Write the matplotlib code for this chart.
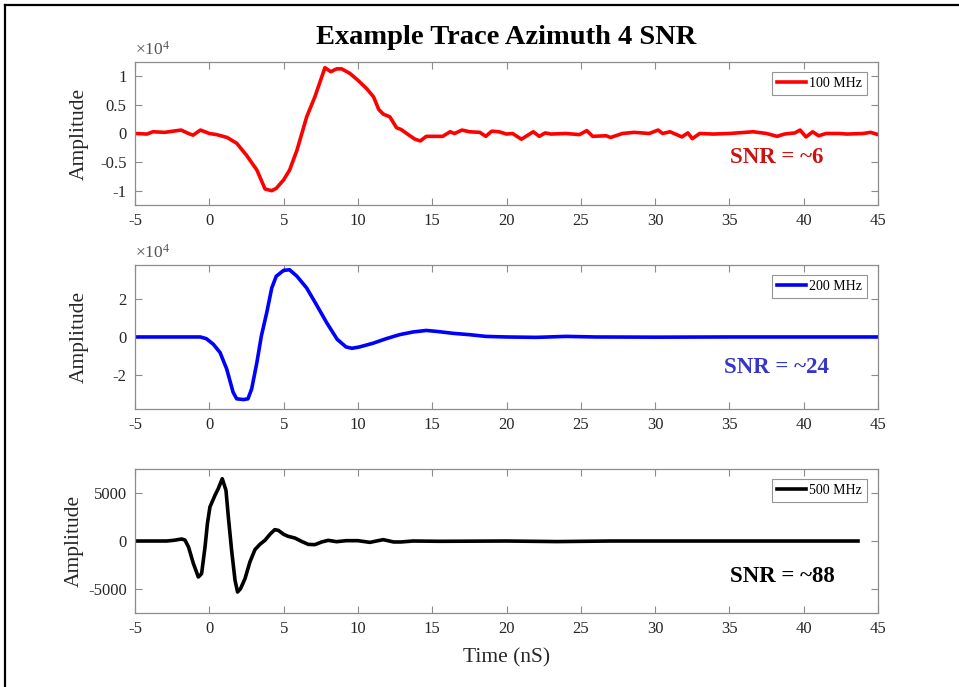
import matplotlib
matplotlib.use("Agg")
import matplotlib.pyplot as plt
from matplotlib.lines import Line2D
from matplotlib.ticker import FuncFormatter

plt.rcParams['font.family'] = ['Liberation Serif', 'DejaVu Serif']
plt.rcParams['mathtext.fontset'] = 'custom'
plt.rcParams['mathtext.rm'] = 'Liberation Serif'
plt.rcParams['axes.unicode_minus'] = False

# 100 MHz trace (time in ns, amplitude)
t100 = [-5.0, -4.2, -3.8, -3.0, -1.9, -1.4, -1.1, -0.6, 0.0, 0.5, 1.2, 1.84, 2.5, 3.2,
        3.75, 4.2, 4.5, 5.0, 5.4, 5.9, 6.55, 7.1, 7.78, 8.17, 8.57, 8.9, 9.46, 10.0,
        10.6, 11.05, 11.4, 11.7, 12.15, 12.6, 12.9, 13.5, 13.84, 14.2, 14.6, 15.2,
        15.7, 16.2, 16.5, 17.0, 17.5, 18.2, 18.6, 19.0, 19.5, 20.0, 20.4, 21.0, 21.8,
        22.2, 22.6, 23.0, 24.0, 24.9, 25.4, 25.8, 26.7, 27.0, 27.8, 28.6, 29.6, 30.2,
        30.5, 31.0, 31.8, 32.2, 32.5, 33.0, 33.9, 35.0, 36.6, 37.5, 38.2, 38.7, 39.4,
        39.75, 40.15, 40.6, 41.0, 41.5, 42.4, 42.9, 44.0, 44.5, 45.0]
a100 = [0, -100, 300, 200, 600, 0, -300, 600, 0, -200, -700, -1700, -3800, -6400,
        -9700, -10000, -9600, -8100, -6400, -2900, 2900, 6400, 11500, 10800, 11300,
        11300, 10500, 9300, 7800, 6400, 4200, 3400, 2900, 1000, 700, -400, -1000,
        -1300, -500, -500, -500, 300, 0, 600, 300, 200, -500, 400, 300, -100, 0, -1000,
        300, -500, 100, -100, 0, -200, 500, -500, -400, -700, 0, 200, 0, 600, 0, 300,
        -600, 100, -900, 0, -100, 0, 300, 0, -500, -100, 100, 600, -600, 300, -400,
        0, 0, -100, 0, 200, -200]

# 200 MHz trace
t200 = [-5.0, -2.0, -0.6, -0.2, 0.27, 0.72, 1.17, 1.6, 1.84, 2.3, 2.6, 2.85, 3.2, 3.5,
        3.86, 4.2, 4.5, 5.0, 5.4, 5.9, 6.55, 7.2, 7.9, 8.6, 9.2, 9.6, 10.1, 11.0, 11.9,
        12.8, 13.7, 14.6, 15.3, 16.4, 17.5, 18.6, 20.0, 22.0, 24.0, 26.0, 30.0, 35.0,
        40.0, 45.0]
a200 = [0, 0, 0, -900, -3800, -8100, -16700, -28800, -32200, -32600, -32200, -27000,
        -13300, 500, 12600, 25500, 31600, 34700, 35000, 31600, 25500, 16900, 7400,
        -1200, -5200, -5900, -5200, -3300, -900, 1200, 2600, 3400, 2900, 1900, 1200,
        300, 0, -200, 300, 0, -100, 0, 0, 0]

# 500 MHz trace
t500 = [-5.0, -2.87, -2.4, -1.86, -1.64, -1.4, -1.07, -0.74, -0.52, -0.29, -0.13, 0.04,
        0.38, 0.6, 0.87, 1.12, 1.28, 1.5, 1.73, 1.9, 2.1, 2.4, 2.73, 3.07, 3.4, 3.74,
        4.08, 4.4, 4.64, 5.0, 5.3, 5.76, 6.2, 6.66, 7.1, 7.56, 8.0, 8.57, 9.2, 10.0,
        10.8, 11.7, 12.4, 12.9, 13.7, 15.5, 20.0, 23.4, 27.0, 35.0, 43.65]
a500 = [0, 0, 70, 210, 100, -625, -2360, -3750, -3400, -625, 1800, 3540, 4760, 5450,
        6490, 5280, 2500, -970, -4100, -5310, -4970, -3920, -2190, -900, -350, 70, 700,
        1180, 1110, 700, 490, 310, -35, -350, -380, -100, 70, -70, 35, 35, -140, 140,
        -100, -100, 0, -30, 0, -60, 0, 0, 0]

panels = [
    dict(t=t100, a=a100, color=(1.0, 0.0, 0.0), label='100 MHz', ylim=(-12500, 12500),
         yticks=[-10000, -5000, 0, 5000, 10000], scale=1e4, snr='SNR = ~6',
         snr_color='#cc1111', snr_pos=(0.801, 0.329), label_x=-0.062,
         rect=[0.1408, 0.7016, 0.7748, 0.2082]),
    dict(t=t200, a=a200, color=(0.0, 0.0, 1.0), label='200 MHz', ylim=(-37500, 37500),
         yticks=[-20000, 0, 20000], scale=1e4, snr='SNR = ~24',
         snr_color='#3535cc', snr_pos=(0.793, 0.285), label_x=-0.062,
         rect=[0.1408, 0.4047, 0.7748, 0.2096]),
    dict(t=t500, a=a500, color=(0.0, 0.0, 0.0), label='500 MHz', ylim=(-7500, 7500),
         yticks=[-5000, 0, 5000], scale=None, snr='SNR = ~88',
         snr_color='black', snr_pos=(0.801, 0.257), label_x=-0.069,
         rect=[0.1408, 0.1077, 0.7748, 0.2096]),
]

fig = plt.figure(figsize=(9.59, 6.87), dpi=100)
spine_c = '#8c8c8c'
label_c = '#262626'

for i, p in enumerate(panels):
    ax = fig.add_axes(p['rect'])
    ax.plot(p['t'], p['a'], color=p['color'], lw=2.6, label=p['label'])
    ax.set_xlim(-5, 45)
    ax.set_ylim(*p['ylim'])
    ax.set_xticks(range(-5, 46, 5))
    ax.set_yticks(p['yticks'])
    if p['scale']:
        s = p['scale']
        ax.yaxis.set_major_formatter(FuncFormatter(lambda v, pos, s=s: f"{v / s:g}"))
        ax.text(0.0, 1.025, r'$\times\mathregular{10^4}$', transform=ax.transAxes,
                fontsize=12.5, color='#555555', ha='left', va='bottom')
    else:
        ax.yaxis.set_major_formatter(FuncFormatter(lambda v, pos: f"{v:g}"))
    ax.tick_params(direction='in', length=5, width=0.8, color=spine_c, labelcolor=label_c,
                   labelsize=12, top=True, right=True, pad=6)
    for sp in ax.spines.values():
        sp.set_color(spine_c)
        sp.set_linewidth(0.9)
    ax.set_ylabel('Amplitude', fontsize=15.5, color=label_c)
    ax.yaxis.set_label_coords(p['label_x'], 0.5)
    leg = ax.legend(loc='upper right', bbox_to_anchor=(0.985, 0.93), borderaxespad=0,
                    fontsize=10, frameon=True, fancybox=False, handlelength=2.1,
                    handletextpad=0.2, borderpad=0.35)
    leg.get_frame().set_edgecolor('#7a7a7a')
    leg.get_frame().set_linewidth(0.8)
    ax.text(p['snr_pos'][0], p['snr_pos'][1], p['snr'], transform=ax.transAxes,
            fontsize=16.5, fontweight='bold', color=p['snr_color'], ha='left', va='center')
    if i == 2:
        ax.set_xlabel('Time (nS)', fontsize=15.5, color=label_c, labelpad=8)

fig.text(0.528, 0.945, 'Example Trace Azimuth 4 SNR', fontsize=20.5, fontweight='bold',
         ha='center', va='center', color='black')

# outer frame (left and top edges)
fig.add_artist(Line2D([5 / 959, 5 / 959], [0, 1 - 5 / 687], transform=fig.transFigure,
                      color='black', lw=1.6))
fig.add_artist(Line2D([5 / 959, 1], [1 - 5 / 687, 1 - 5 / 687], transform=fig.transFigure,
                      color='black', lw=1.6))

fig.savefig('out.png', dpi=100, facecolor='white')
